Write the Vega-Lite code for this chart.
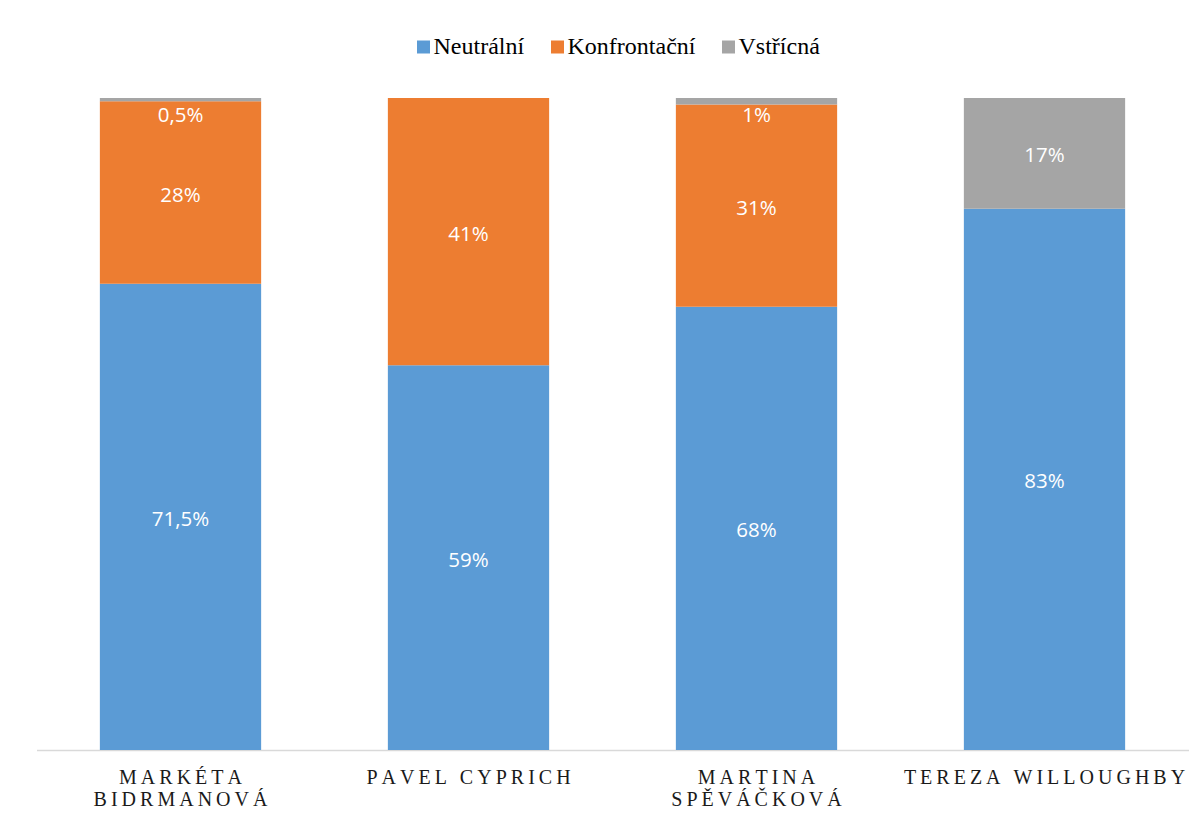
{
  "$schema": "https://vega.github.io/schema/vega-lite/v6.json",
  "autosize": {"type": "none"},
  "width": 1152,
  "height": 652,
  "padding": {"left": 36.5, "top": 98, "right": 14.5, "bottom": 73},
  "background": "white",
  "data": {
    "values": [
      {"jmeno": "MARKÉTA BIDRMANOVÁ", "typ": "Neutrální", "hodnota": 71.5, "label": "71,5%"},
      {"jmeno": "MARKÉTA BIDRMANOVÁ", "typ": "Konfrontační", "hodnota": 28, "label": "28%"},
      {"jmeno": "MARKÉTA BIDRMANOVÁ", "typ": "Vstřícná", "hodnota": 0.5, "label": "0,5%"},
      {"jmeno": "PAVEL CYPRICH", "typ": "Neutrální", "hodnota": 59, "label": "59%"},
      {"jmeno": "PAVEL CYPRICH", "typ": "Konfrontační", "hodnota": 41, "label": "41%"},
      {"jmeno": "MARTINA SPĚVÁČKOVÁ", "typ": "Neutrální", "hodnota": 68, "label": "68%"},
      {"jmeno": "MARTINA SPĚVÁČKOVÁ", "typ": "Konfrontační", "hodnota": 31, "label": "31%"},
      {"jmeno": "MARTINA SPĚVÁČKOVÁ", "typ": "Vstřícná", "hodnota": 1, "label": "1%"},
      {"jmeno": "TEREZA WILLOUGHBY", "typ": "Neutrální", "hodnota": 83, "label": "83%"},
      {"jmeno": "TEREZA WILLOUGHBY", "typ": "Vstřícná", "hodnota": 17, "label": "17%"}
    ]
  },
  "transform": [
    {"calculate": "indexof(['Neutrální','Konfrontační','Vstřícná'], datum.typ)", "as": "poradi"},
    {"stack": "hodnota", "groupby": ["jmeno"], "sort": [{"field": "poradi", "order": "ascending"}], "as": ["v0", "v1"]},
    {"calculate": "(datum.v0 + datum.v1) / 2", "as": "stred"}
  ],
  "encoding": {
    "x": {
      "field": "jmeno",
      "type": "nominal",
      "sort": ["MARKÉTA BIDRMANOVÁ", "PAVEL CYPRICH", "MARTINA SPĚVÁČKOVÁ", "TEREZA WILLOUGHBY"],
      "scale": {"paddingInner": 0.44, "paddingOuter": 0.22},
      "axis": {
        "title": null,
        "labelAngle": 0,
        "ticks": false,
        "domainColor": "#d9d9d9",
        "domainWidth": 1.5,
        "labelFont": "Liberation Serif",
        "labelFontSize": 20,
        "labelColor": "#1a1a1a",
        "labelPadding": 17,
        "labelLineHeight": 22,
        "labelBaseline": "top",
        "labelLimit": 0,
        "labelExpr": "length(datum.label) > 17 ? [join(split(split(datum.label, ' ')[0], ''), '\u2009'), join(split(split(datum.label, ' ')[1], ''), '\u2009')] : join(split(datum.label, ''), '\u2009')"
      }
    }
  },
  "layer": [
    {
      "mark": {"type": "bar"},
      "encoding": {
        "y": {"field": "v0", "type": "quantitative", "scale": {"domain": [0, 100], "nice": false}, "axis": null},
        "y2": {"field": "v1"},
        "color": {
          "field": "typ",
          "type": "nominal",
          "scale": {"domain": ["Neutrální", "Konfrontační", "Vstřícná"], "range": ["#5B9BD5", "#ED7D31", "#A5A5A5"]},
          "legend": {
            "title": null,
            "orient": "none",
            "direction": "horizontal",
            "legendX": 375,
            "legendY": -63,
            "symbolType": "square",
            "symbolSize": 169,
            "symbolStrokeWidth": 0,
            "labelFont": "Liberation Serif",
            "labelFontSize": 24,
            "labelColor": "#000000",
            "labelOffset": -2,
            "columnPadding": 21
          }
        }
      }
    },
    {
      "transform": [{"filter": "datum.hodnota >= 5"}],
      "mark": {"type": "text", "color": "white", "font": "Open Sans", "fontSize": 20.5, "baseline": "middle", "dy": 3},
      "encoding": {
        "y": {"field": "stred", "type": "quantitative"},
        "text": {"field": "label"}
      }
    },
    {
      "transform": [{"filter": "datum.hodnota < 5"}],
      "mark": {"type": "text", "color": "white", "font": "Open Sans", "fontSize": 20.5, "baseline": "middle", "dy": 18},
      "encoding": {
        "y": {"field": "v1", "type": "quantitative"},
        "text": {"field": "label"}
      }
    }
  ],
  "config": {"view": {"stroke": null}}
}
